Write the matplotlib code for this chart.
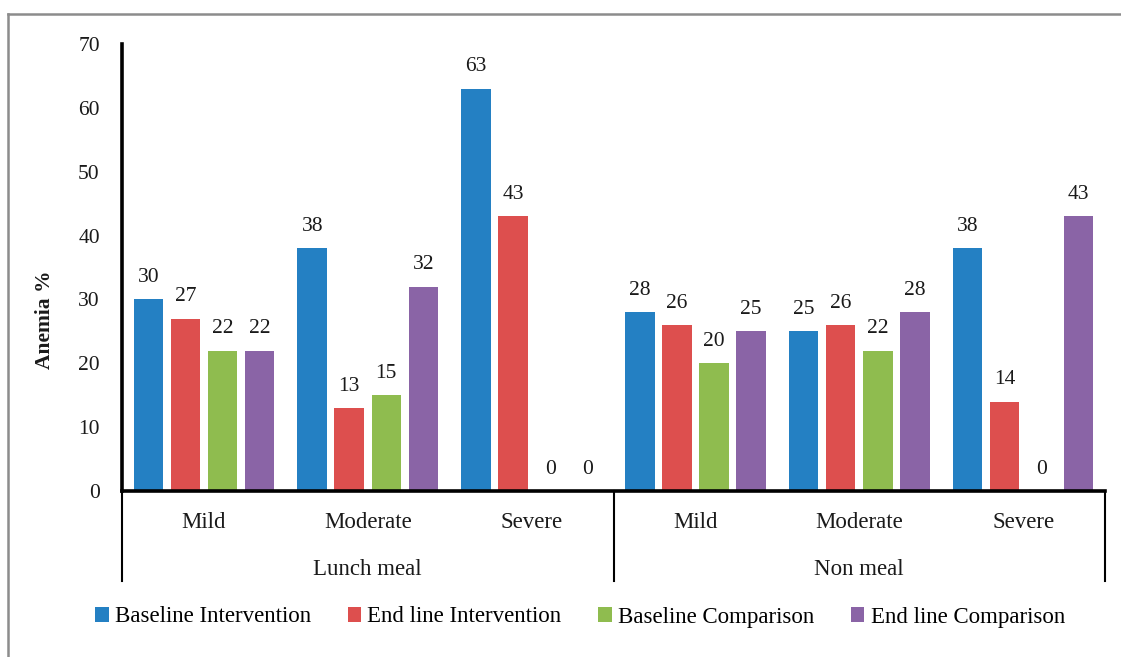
import matplotlib
matplotlib.use("Agg")
import matplotlib.pyplot as plt
import matplotlib.transforms as mtransforms
from matplotlib.lines import Line2D
from matplotlib.patches import Patch
import numpy as np

plt.rcParams['font.family'] = ['Liberation Serif', 'DejaVu Serif']

groups = ["Lunch meal", "Non meal"]
categories = ["Mild", "Moderate", "Severe", "Mild", "Moderate", "Severe"]
series_names = ["Baseline Intervention", "End line Intervention",
                "Baseline Comparison", "End line Comparison"]
baseline_intervention = [30, 38, 63, 28, 25, 38]
endline_intervention = [27, 13, 43, 26, 26, 14]
baseline_comparison = [22, 15, 0, 20, 22, 0]
endline_comparison = [22, 32, 0, 25, 28, 43]
series_values = [baseline_intervention, endline_intervention,
                 baseline_comparison, endline_comparison]
colors = ["#2480C3", "#DD4F4E", "#8FBC4F", "#8A64A6"]
yticks = [0, 10, 20, 30, 40, 50, 60, 70]

W, H = 1121, 657
fig = plt.figure(figsize=(W / 100, H / 100), dpi=100)

# plot area in pixel units
x0, x1, ytop, ybot = 122, 1105, 44, 491
ax = fig.add_axes([x0 / W, 1 - ybot / H, (x1 - x0) / W, (ybot - ytop) / H])

FS_NUM = 15.5
FS_TXT = 16.5
n_cat = len(categories)
centers = np.arange(n_cat) + 0.5
step = 0.226
width = 0.18
offsets = (np.arange(4) - 1.5) * step

for i, (vals, col) in enumerate(zip(series_values, colors)):
    xs = centers + offsets[i]
    ax.bar(xs, vals, width=width, color=col, zorder=2)
    for x, v in zip(xs, vals):
        ax.annotate(str(v), (x, v), xytext=(0, 12.5), textcoords="offset points",
                    ha="center", va="baseline", fontsize=FS_NUM, color="#1a1a1a")

ax.set_xlim(0, n_cat)
ax.set_ylim(0, 70)
ax.set_yticks(yticks)
ax.set_yticklabels([str(t) for t in yticks], fontsize=FS_NUM, color="#1a1a1a")
ax.tick_params(axis="y", length=0, pad=16)
ax.set_xticks([])
for s in ["top", "right"]:
    ax.spines[s].set_visible(False)
for s in ["left", "bottom"]:
    ax.spines[s].set_linewidth(2.6)
    ax.spines[s].set_color("black")
ax.spines["bottom"].set_capstyle("projecting")

# multi-level category axis
blend = mtransforms.blended_transform_factory(ax.transData, fig.transFigure)
for x, c in zip(centers, categories):
    ax.text(x, 1 - 528 / H, c, transform=blend, ha="center", va="baseline",
            fontsize=FS_TXT, color="#1a1a1a")
for g, name in enumerate(groups):
    ax.text(1.5 + 3 * g, 1 - 575 / H, name, transform=blend, ha="center",
            va="baseline", fontsize=FS_TXT, color="#1a1a1a")
for xd in [0, 3, 6]:
    ax.add_line(Line2D([xd, xd], [1 - ybot / H, 1 - 581 / H], transform=blend,
                       color="black", lw=1.5, clip_on=False))

fig.text(45 / W, 1 - 320 / H, "Anemia %", rotation=90, ha="center", va="center",
         fontsize=FS_NUM, fontweight="bold", color="#1a1a1a")

# legend
handles = [Patch(facecolor=c, edgecolor="none") for c in colors]
fig.legend(handles, series_names, loc="center", bbox_to_anchor=(580 / W, 1 - 617 / H),
           ncol=4, frameon=False, fontsize=FS_TXT, handlelength=0.58, handleheight=0.58,
           handletextpad=0.28, columnspacing=1.6, borderaxespad=0)

# outer chart border (left and top edges)
fig.add_artist(Line2D([8 / W, 8 / W], [0, 1 - 14 / H], transform=fig.transFigure,
                      color="#8c8c8c", lw=1.8))
fig.add_artist(Line2D([8 / W, 1], [1 - 14 / H, 1 - 14 / H], transform=fig.transFigure,
                      color="#8c8c8c", lw=1.8))

fig.savefig("out.png", dpi=100)
